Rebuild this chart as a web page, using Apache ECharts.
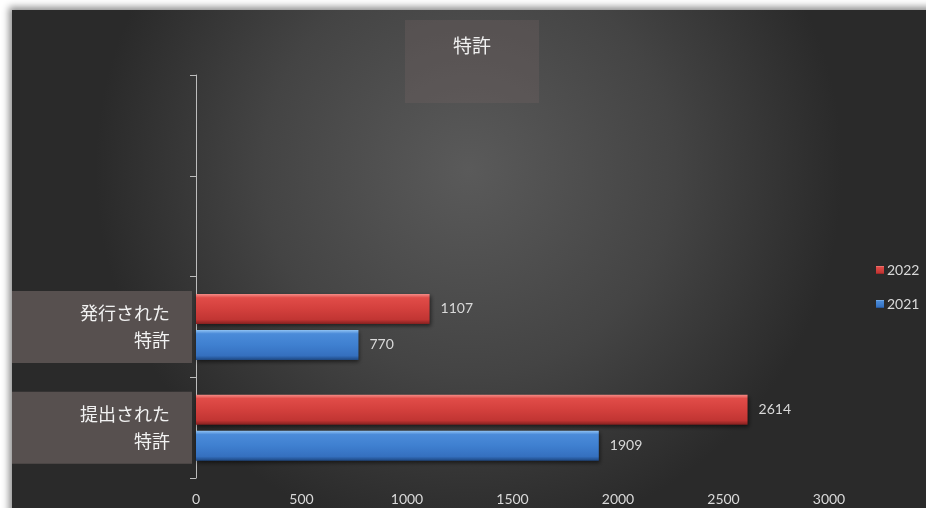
<!DOCTYPE html>
<html>
<head>
<meta charset="utf-8">
<script src="https://cdn.jsdelivr.net/npm/echarts@6/dist/echarts.min.js"></script>
<style>
  html, body { margin: 0; padding: 0; background: #ffffff; width: 926px; height: 508px; overflow: hidden; }
  #frame {
    position: absolute; left: 12px; top: 10px; width: 930px; height: 510px;
    box-shadow: -3px -3px 7px rgba(0,0,0,0.45);
  }
  #chart { width: 914px; height: 498px; }
</style>
</head>
<body>
<div id="frame"><div id="chart"></div></div>
<script>
// Patent counts by year
const categories = ['提出された\n特許', '発行された\n特許', '', ''];
const seriesNames = ['2022', '2021'];
const values2022 = [2614, 1107];
const values2021 = [1909, 770];
const xMin = 0, xMax = 3000, xStep = 500;

const latin = 'Lato, "Open Sans", sans-serif';
const cjk = '"Noto Sans CJK JP", "Noto Sans", sans-serif';

function bevel(stops) {
  return new echarts.graphic.LinearGradient(0, 0, 0, 1,
    stops.map(([offset, color]) => ({ offset, color })));
}
const redFill = bevel([[0, '#f58e89'], [0.13, '#e14c48'], [0.5, '#d3403d'], [0.86, '#c13533'], [1, '#862120']]);
const blueFill = bevel([[0, '#92c4f4'], [0.13, '#4b8bd9'], [0.5, '#3f80d0'], [0.86, '#3570bf'], [1, '#1e4883']]);

function barSeries(name, data, fill) {
  return {
    name, type: 'bar', data,
    barWidth: 30, barGap: '20%',
    itemStyle: {
      color: fill,
      shadowColor: 'rgba(0,0,0,0.55)', shadowBlur: 4, shadowOffsetX: 1, shadowOffsetY: 2
    },
    label: {
      show: true, position: 'right', distance: 11,
      color: '#d9d9d9', fontSize: 14, fontFamily: latin
    }
  };
}

const chart = echarts.init(document.getElementById('chart'));
chart.setOption({
  backgroundColor: new echarts.graphic.RadialGradient(0.5, 0.32, 0.75, [
    { offset: 0, color: '#5a5a5a' },
    { offset: 0.55, color: '#444444' },
    { offset: 1, color: '#2a2a2a' }
  ]),
  title: {
    text: '特許',
    left: 393, top: 10,
    padding: [16, 48, 48, 48],
    backgroundColor: 'rgba(112,96,96,0.35)',
    textStyle: { color: '#f0f0f0', fontSize: 19, fontWeight: 'normal', fontFamily: cjk }
  },
  legend: {
    data: seriesNames,
    orient: 'vertical',
    left: 864, top: 253,
    padding: 0,
    itemWidth: 8, itemHeight: 8, itemGap: 20,
    icon: 'rect',
    textStyle: { color: '#d9d9d9', fontSize: 14, fontFamily: latin, padding: [0, 0, 0, -2] }
  },
  grid: { left: 184, top: 65, width: 633, height: 403, containLabel: false, outerBoundsMode: 'none' },
  xAxis: {
    type: 'value', min: xMin, max: xMax, interval: xStep,
    axisLine: { show: false }, axisTick: { show: false }, splitLine: { show: false },
    axisLabel: { color: '#d9d9d9', fontSize: 14, fontFamily: latin, margin: 14, formatter: v => String(v) }
  },
  yAxis: {
    type: 'category', data: categories,
    axisLine: { show: true, lineStyle: { color: '#bdbdbd', width: 1 } },
    axisTick: { show: true, interval: 0, length: 6, lineStyle: { color: '#bdbdbd' } },
    splitLine: { show: false },
    axisLabel: {
      interval: (i, v) => v !== '',
      color: '#f2f2f2', fontSize: 18, lineHeight: 27, fontFamily: cjk,
      backgroundColor: '#57504f',
      padding: [9, 22, 9, 0], width: 158, align: 'right', margin: 4
    }
  },
  series: [
    barSeries(seriesNames[0], values2022, redFill),
    barSeries(seriesNames[1], values2021, blueFill)
  ]
});
</script>
</body>
</html>
